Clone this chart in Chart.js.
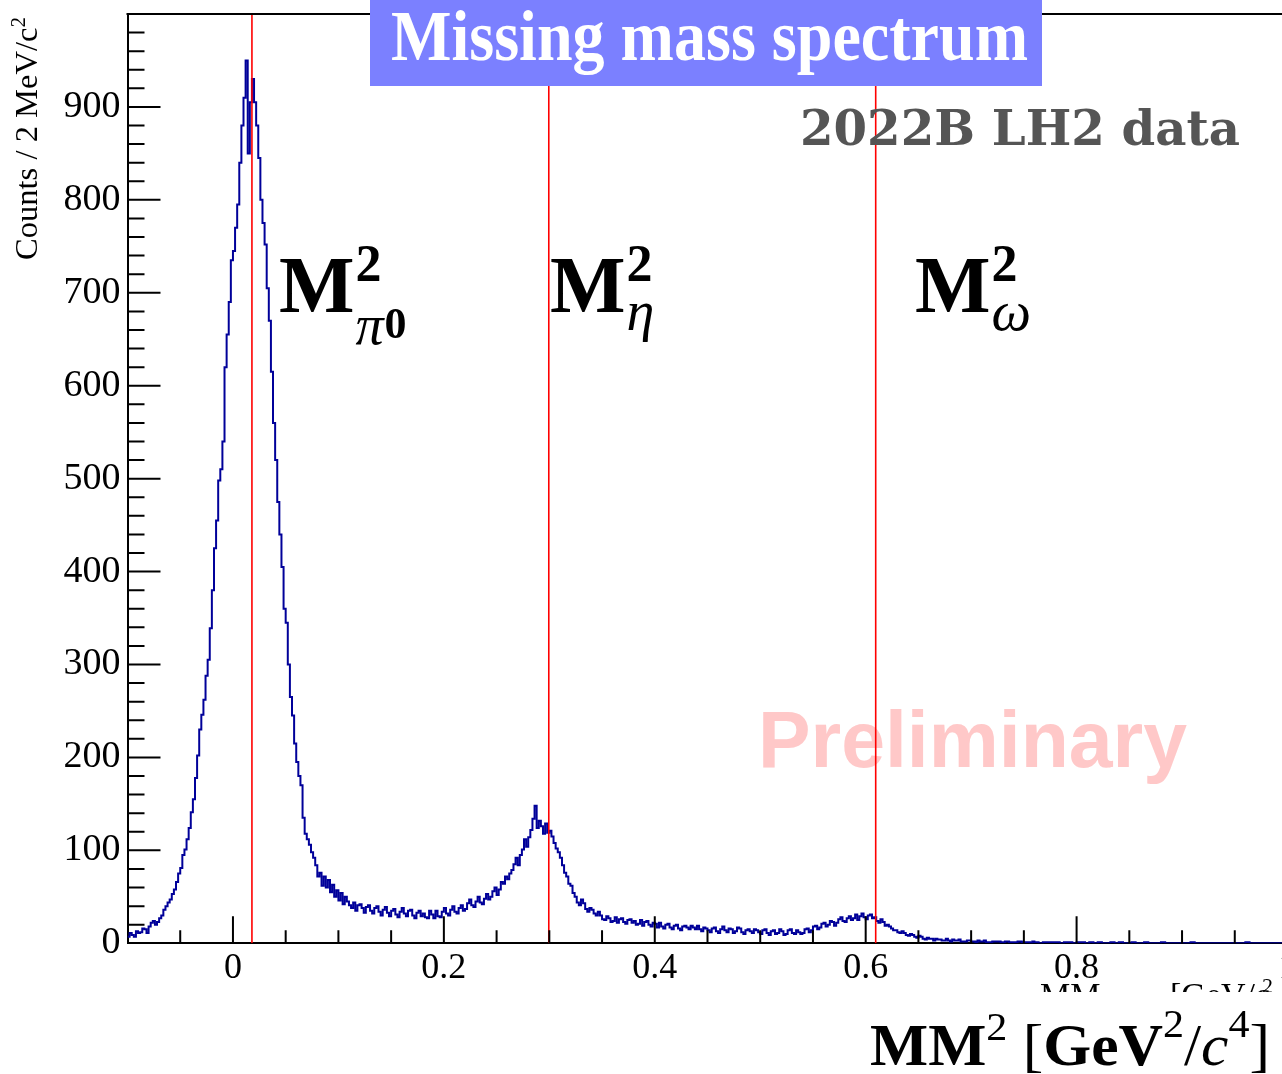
<!DOCTYPE html>
<html>
<head>
<meta charset="utf-8">
<script src="https://cdn.jsdelivr.net/npm/chart.js@4.4.1/dist/chart.umd.min.js"></script>
<style>
html,body{margin:0;padding:0;background:#fff;overflow:hidden;}
canvas{display:block;}
</style>
</head>
<body>
<canvas id="c" width="1300" height="1074" style="width:1300px;height:1074px"></canvas>
<script>
// ---- data ----
const binLow = -0.1;        // GeV^2/c^4, lower edge of first bin
const binWidth = 0.002;     // GeV^2/c^4
const counts = [
  7,11,9,7,13,11,12,16,15,11,18,22,24,20,23,27,30,36,40,44,
  47,53,58,66,75,81,95,101,112,124,141,155,178,202,230,246,262,288,305,339,
  380,425,455,498,510,540,620,655,690,735,745,770,795,840,880,910,950,850,905,930,
  905,880,845,800,775,752,705,670,615,560,520,475,440,405,360,345,300,265,245,215,
  195,180,170,135,118,112,106,98,92,84,72,76,62,72,60,68,55,63,50,57,
  46,54,42,50,45,41,38,44,35,41,42,38,33,39,41,35,32,38,40,34,
  30,36,39,33,29,35,37,31,28,34,38,32,29,35,36,30,27,33,35,29,
  32,28,27,35,31,27,35,29,28,34,38,32,30,36,40,34,32,38,41,35,
  37,43,47,41,39,45,50,44,42,48,53,47,50,56,60,52,58,66,64,72,
  69,75,79,85,92,84,95,101,112,104,114,122,134,148,124,132,126,118,129,119,
  121,115,108,102,98,92,84,76,72,64,62,54,50,44,41,47,43,37,34,38,
  36,32,30,34,30,26,25,29,27,23,24,28,22,26,27,23,21,25,26,22,
  24,20,21,25,19,23,24,20,18,22,21,17,22,18,16,20,21,17,15,19,
  20,16,14,18,19,17,15,19,17,15,19,15,13,17,16,14,12,16,17,13,
  11,15,18,14,12,16,15,11,13,17,16,12,10,14,15,13,11,15,14,12,
  10,14,15,11,9,13,14,10,11,15,13,9,10,14,15,11,10,14,12,10,
  11,15,16,12,14,18,19,15,17,21,22,18,20,24,23,19,22,26,28,24,
  23,27,29,25,27,31,25,29,32,28,26,30,31,27,28,24,22,26,23,19,
  20,18,16,14,14,12,11,13,11,9,8,10,9,7,6,8,7,5,4,6,
  5,5,3,5,4,4,3,3,5,3,2,4,3,3,4,2,2,2,3,3,
  2,2,1,3,2,2,3,1,1,1,2,2,2,2,1,1,2,2,1,1,
  1,1,2,2,1,1,1,1,0,2,1,1,0,0,1,1,1,1,1,1,
  1,1,0,0,1,1,1,1,0,0,1,1,1,1,0,0,1,1,0,0,
  1,1,0,0,0,0,1,1,0,0,1,1,0,0,0,0,1,1,0,0,
  0,0,1,1,0,0,0,0,0,0,1,1,0,0,0,0,0,0,0,0,
  0,0,0,0,1,1,0,0,0,0,0,0,0,0,0,0,0,0,0,0,
  0,0,0,0,0,0,0,0,0,0,1,1,0,0,0,0,0,0,0,0,
  0,0,0,0,0,0,0,0,0,0
];
const markerNames = ['pi0', 'eta', 'omega'];
const markerValues = [0.018, 0.2995, 0.6095];   // M^2 of pi0, eta, omega
const xTickValues = [0, 0.2, 0.4, 0.6, 0.8, 1.0];
const yTickValues = [0, 100, 200, 300, 400, 500, 600, 700, 800, 900];
const xRange = [-0.1, 1.0];
const yRange = [0, 1000];

// ---- build library tables ----
const histPoints = counts.map((c, i) => ({ x: binLow + i * binWidth, y: c }));
histPoints.push({ x: binLow + counts.length * binWidth, y: counts[counts.length - 1] });

const datasets = [{
  label: 'MM2',
  data: histPoints,
  borderColor: '#000099',
  borderWidth: 2,
  stepped: 'before',
  pointRadius: 0,
  fill: false,
  order: 2
}];
markerValues.forEach((m, i) => datasets.push({
  label: markerNames[i],
  data: [{ x: m, y: yRange[0] }, { x: m, y: yRange[1] }],
  borderColor: '#ff0000',
  borderWidth: 1.6,
  pointRadius: 0,
  fill: false,
  order: 1
}));

function drawRuns(ctx, runs, x, y, targetW) {
  let total = 0;
  runs.forEach(r => { ctx.font = r.font; r.w = ctx.measureText(r.t).width + (r.gap || 0); total += r.w; });
  const s = targetW ? targetW / total : 1;
  ctx.save();
  ctx.translate(x, y);
  ctx.scale(s, 1);
  ctx.textBaseline = 'alphabetic';
  ctx.textAlign = 'left';
  let cx = 0;
  runs.forEach(r => { ctx.font = r.font; ctx.fillText(r.t, cx, r.dy || 0); cx += r.w; });
  ctx.restore();
}

const SERIF = '"Liberation Serif", "Times New Roman", serif';

const decor = {
  id: 'decor',
  beforeDatasetsDraw(chart) {
    const ctx = chart.ctx;
    ctx.save();
    ctx.fillStyle = 'rgb(255,200,200)';
    drawRuns(ctx, [{ t: 'Preliminary', font: 'bold 80px "Liberation Sans", Arial, sans-serif' }], 758, 767, 429);
    ctx.restore();
  },
  afterDatasetsDraw(chart) {
    const ctx = chart.ctx, xs = chart.scales.x, ys = chart.scales.y, ca = chart.chartArea;
    ctx.save();
    ctx.strokeStyle = '#000';
    ctx.lineWidth = 2;
    ctx.beginPath();
    for (let k = -1; k <= 20; k++) {
      const px = xs.getPixelForValue(k * 0.05);
      const len = (k % 4 === 0) ? 27 : 13;
      ctx.moveTo(px, ca.bottom); ctx.lineTo(px, ca.bottom - len);
    }
    for (let k = 1; k < 50; k++) {
      const py = ys.getPixelForValue(k * 20);
      const len = (k % 5 === 0) ? 33 : 17;
      ctx.moveTo(ca.left, py); ctx.lineTo(ca.left + len, py);
    }
    ctx.moveTo(ca.left - 1, ca.top); ctx.lineTo(ca.right, ca.top);
    ctx.stroke();
    ctx.restore();
  },
  afterDraw(chart) {
    const ctx = chart.ctx;
    ctx.save();
    // title box
    ctx.fillStyle = '#7b80ff';
    ctx.fillRect(370, 0, 672, 86);
    ctx.fillStyle = '#ffffff';
    drawRuns(ctx, [{ t: 'Missing mass spectrum', font: 'bold 72px ' + SERIF }], 391, 60, 637);

    // data set label
    ctx.fillStyle = '#555555';
    drawRuns(ctx, [{ t: '2022B LH2 data', font: 'bold 48px "DejaVu Serif", serif' }], 800, 145, 440);

    // particle labels
    ctx.fillStyle = '#000';
    const fM = 'bold 80px ' + SERIF, fSup = 'bold 52px ' + SERIF, fSub = 'italic 56px ' + SERIF, fSub0 = 'bold 44px ' + SERIF;
    function mLabel(x, subText, subBase, extra) {
      ctx.font = fM;
      ctx.fillText('M', x, 312);
      const w = ctx.measureText('M').width;
      ctx.font = fSup;
      ctx.fillText('2', x + w + 1, 281);
      ctx.font = fSub;
      ctx.fillText(subText, x + w + 1, subBase);
      if (extra) {
        const ws = ctx.measureText(subText).width;
        ctx.font = fSub0;
        ctx.fillText(extra, x + w + 1 + ws + 1, subBase - 6);
      }
    }
    ctx.textAlign = 'left';
    ctx.textBaseline = 'alphabetic';
    mLabel(279, '\u03C0', 344, '0');
    mLabel(550, '\u03B7', 330);
    mLabel(915, '\u03C9', 330);

    // y axis title (rotated)
    ctx.save();
    ctx.translate(36.5, 260);
    ctx.rotate(-Math.PI / 2);
    drawRuns(ctx, [
      { t: 'Counts / 2 MeV/c', font: '31px ' + SERIF },
      { t: '2', font: '20px ' + SERIF, dy: -12 }
    ], 0, 0, 243);
    ctx.restore();

    // partially hidden default axis title
    ctx.fillStyle = '#000';
    ctx.font = '34px ' + SERIF;
    ctx.fillText('MM', 1040, 1006);
    ctx.fillText('[GeV/c', 1170, 1006);
    ctx.font = '22px ' + SERIF;
    ctx.fillText('2', 1262, 993);
    ctx.fillStyle = '#fff';
    ctx.fillRect(990, 992, 310, 22);

    // big x axis title
    ctx.fillStyle = '#000';
    drawRuns(ctx, [
      { t: 'MM', font: 'bold 60px ' + SERIF },
      { t: '2', font: '41px ' + SERIF, dy: -25 },
      { t: ' [', font: '60px ' + SERIF },
      { t: 'GeV', font: 'bold 60px ' + SERIF },
      { t: '2', font: '41px ' + SERIF, dy: -28 },
      { t: '/', font: '60px ' + SERIF },
      { t: 'c', font: 'italic 60px ' + SERIF },
      { t: '4', font: '41px ' + SERIF, dy: -28 },
      { t: ']', font: '60px ' + SERIF }
    ], 870, 1065, 400);
    ctx.restore();
  }
};

new Chart(document.getElementById('c'), {
  type: 'line',
  data: { datasets },
  options: {
    responsive: false,
    devicePixelRatio: 1,
    animation: false,
    layout: { padding: { top: 14, right: 12.5, bottom: 0, left: 0 } },
    plugins: { legend: { display: false }, tooltip: { enabled: false } },
    scales: {
      x: {
        type: 'linear',
        min: xRange[0],
        max: xRange[1],
        afterBuildTicks: s => { s.ticks = xTickValues.map(v => ({ value: v })); },
        afterFit: s => { s.height = 130.7; s.paddingLeft = 0; s.paddingRight = 0; },
        grid: { display: false, drawTicks: false },
        border: { display: true, color: '#000', width: 2 },
        ticks: {
          autoSkip: false,
          maxRotation: 0,
          padding: 4,
          color: '#000',
          font: { family: SERIF, size: 36 },
          callback: v => (v === 0 ? '0' : (Math.abs(v - 1) < 1e-9 ? '1' : v.toFixed(1)))
        }
      },
      y: {
        type: 'linear',
        min: yRange[0],
        max: yRange[1],
        afterBuildTicks: s => { s.ticks = yTickValues.map(v => ({ value: v })); },
        afterFit: s => { s.width = 127.5; s.paddingTop = 0; s.paddingBottom = 0; },
        grid: { display: false, drawTicks: false },
        border: { display: true, color: '#000', width: 2 },
        ticks: {
          padding: 7,
          color: '#000',
          font: { family: SERIF, size: 38 },
          callback: v => String(v)
        }
      }
    }
  },
  plugins: [decor]
});
</script>
</body>
</html>
